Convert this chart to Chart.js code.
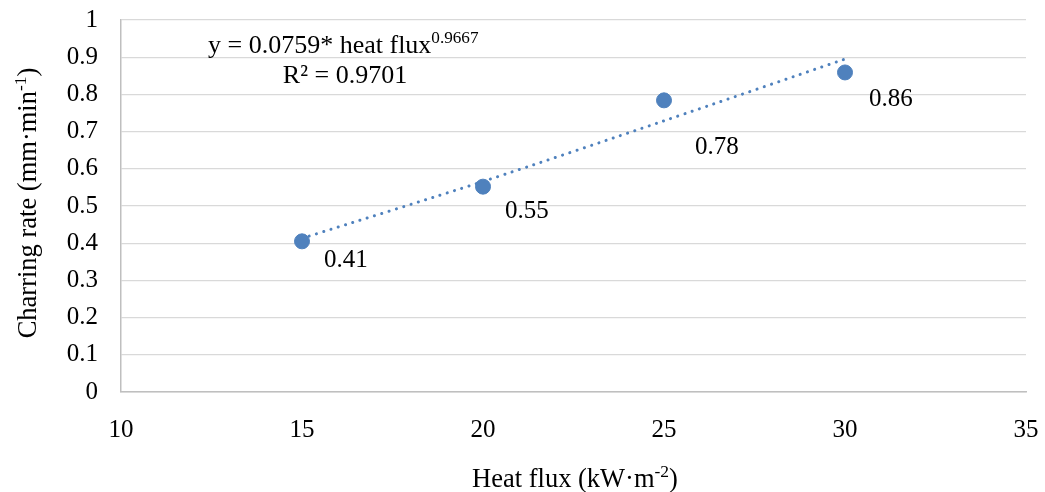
<!DOCTYPE html>
<html>
<head>
<meta charset="utf-8">
<script src="https://cdn.jsdelivr.net/npm/chart.js@4/dist/chart.umd.min.js"></script>
<style>
  html, body { margin: 0; padding: 0; background: #fff; }
  #wrap { width: 1045px; height: 492px; }
</style>
</head>
<body>
<div id="wrap"><canvas id="chart"></canvas></div>
<script>
// Measured points (heat flux vs charring rate)
const heatFlux = [15, 20, 25, 30];
const charRate = [0.405, 0.552, 0.784, 0.859];
const charLabels = ['0.41', '0.55', '0.78', '0.86'];

// Power trendline as it sits in the picture
const trendX = [15, 20, 25, 30];
const trendY = [0.413, 0.566, 0.729, 0.895];

const xTicks = [10, 15, 20, 25, 30, 35];
const yTicks = [0, 0.1, 0.2, 0.3, 0.4, 0.5, 0.6, 0.7, 0.8, 0.9, 1];

const FONT = '"Liberation Serif", "Times New Roman", serif';
const BLUE = '#4F81BD';
const SIZE = 25;

// Label nudges (px) as in the reference, where labels dodge the trendline
const labelNudge = [[22, 19], [22, 25], [31, 47], [24, 27]];

// draw a line of text made of normal + superscript pieces
function richText(ctx, parts, x, y, size, align) {
  let total = 0;
  parts.forEach(p => {
    ctx.font = (p.sup ? size * 0.66 : size) + 'px ' + FONT;
    total += ctx.measureText(p.t).width;
  });
  let cx = align === 'center' ? x - total / 2 : x;
  ctx.textBaseline = 'alphabetic';
  ctx.textAlign = 'left';
  parts.forEach(p => {
    ctx.font = (p.sup ? size * 0.66 : size) + 'px ' + FONT;
    ctx.fillText(p.t, cx, p.sup ? y - size * 0.38 : y);
    cx += ctx.measureText(p.t).width;
  });
}

const extras = {
  id: 'extras',
  afterDatasetsDraw(chart) {
    const ctx = chart.ctx;
    const xs = chart.scales.x, ys = chart.scales.y;
    ctx.save();
    ctx.fillStyle = '#000';

    // data labels
    ctx.font = SIZE + 'px ' + FONT;
    ctx.textAlign = 'left';
    ctx.textBaseline = 'middle';
    heatFlux.forEach((hx, i) => {
      const px = xs.getPixelForValue(hx), py = ys.getPixelForValue(charRate[i]);
      ctx.fillText(charLabels[i], px + labelNudge[i][0], py + labelNudge[i][1]);
    });

    // trendline equation
    richText(ctx, [{t: 'y = 0.0759* heat flux'}, {t: '0.9667', sup: true}], 208, 53, 26, 'left');
    richText(ctx, [{t: 'R² = 0.9701'}], 345, 83, 26, 'center');

    // axis titles
    richText(ctx, [{t: 'Heat flux (kW·m'}, {t: '-2', sup: true}, {t: ')'}], 575, 487, 26.5, 'center');
    ctx.translate(36, 203);
    ctx.rotate(-Math.PI / 2);
    richText(ctx, [{t: 'Charring rate (mm·min'}, {t: '-1', sup: true}, {t: ')'}], 0, 0, 26.5, 'center');
    ctx.restore();
  }
};

new Chart(document.getElementById('chart'), {
  type: 'scatter',
  data: {
    datasets: [
      {
        label: 'trend',
        type: 'line',
        data: trendX.map((x, i) => ({x: x, y: trendY[i]})),
        borderColor: BLUE,
        borderWidth: 3,
        borderDash: [0.1, 7.5],
        borderCapStyle: 'round',
        pointRadius: 0,
        fill: false,
        tension: 0.3
      },
      {
        label: 'Charring rate',
        data: heatFlux.map((x, i) => ({x: x, y: charRate[i]})),
        backgroundColor: BLUE,
        borderColor: BLUE,
        pointRadius: 7.5,
        pointHoverRadius: 7.5
      }
    ]
  },
  options: {
    responsive: true,
    maintainAspectRatio: false,
    animation: false,
    layout: { autoPadding: false, padding: { left: 0, right: 19, top: 20, bottom: 0 } },
    plugins: { legend: { display: false }, tooltip: { enabled: false } },
    scales: {
      x: {
        type: 'linear',
        min: 10, max: 35,
        afterBuildTicks: s => { s.ticks = xTicks.map(v => ({value: v})); },
        afterFit: s => { s.height = 100; s.paddingLeft = 0; s.paddingRight = 0; },
        grid: { display: false, drawTicks: false },
        border: { color: '#BFBFBF', width: 1.5 },
        ticks: { padding: 23, color: '#000', font: { family: FONT, size: SIZE } }
      },
      y: {
        min: 0, max: 1,
        afterBuildTicks: s => { s.ticks = yTicks.map(v => ({value: v})); },
        afterFit: s => { s.width = 121; s.paddingTop = 0; s.paddingBottom = 0; },
        grid: { color: '#D9D9D9', lineWidth: 1.2, drawTicks: false },
        border: { color: '#BFBFBF', width: 1.5 },
        ticks: {
          padding: 23, color: '#000', font: { family: FONT, size: SIZE },
          callback: v => String(Math.round(v * 10) / 10)
        }
      }
    }
  },
  plugins: [extras]
});
</script>
</body>
</html>
